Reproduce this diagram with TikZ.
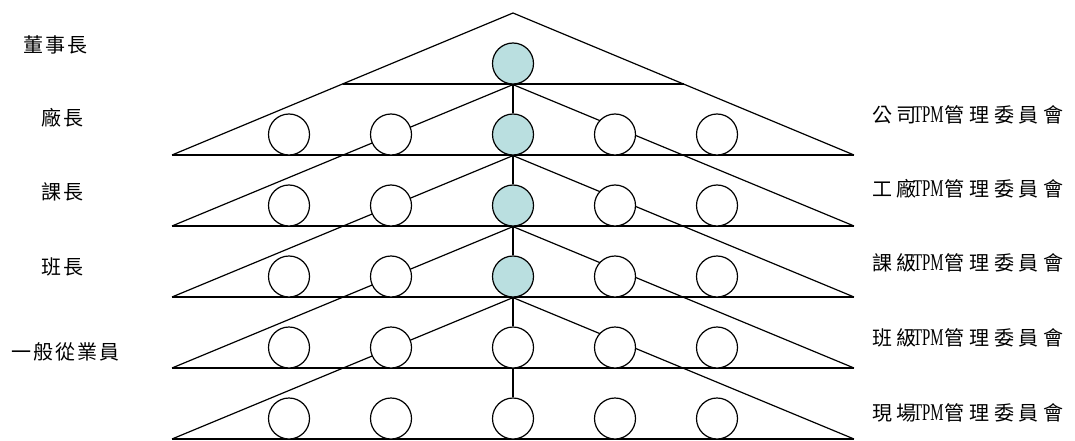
\documentclass[tikz,border=0pt]{standalone}
\usepackage{fontspec}
\setmainfont{Liberation Serif}
\newfontfamily\cjk[LetterSpace=10]{Noto Sans CJK TC}
\newfontfamily\cjkwide[LetterSpace=24]{Noto Sans CJK TC}
\newfontfamily\tpm[FakeStretch=0.62]{Liberation Serif}
\usetikzlibrary{calc,backgrounds}

\definecolor{chairfill}{RGB}{186,223,224}

\newcommand\board[1]{{\cjkwide #1}\kern-4pt{\fontsize{24}{24}\tpm TPM}\kern1pt{\cjkwide 管理委員會}}

\begin{document}
\begin{tikzpicture}[
        x=1pt, y=-1pt,
        font=\fontsize{20}{20}\selectfont,
        member/.style={circle, draw, line width=1.2pt, fill=white,
            minimum size=41pt, inner sep=0pt},
        link/.style={line width=1.2pt},
        rank/.style={inner sep=0pt, font=\fontsize{20}{20}\selectfont\cjk},
        cttee/.style={anchor=west, inner sep=0pt},
    ]
        \useasboundingbox (0,0) rectangle (1075,441);

        % Chairman on top
        \coordinate (peak) at (513,13);
        \node[member, fill=chairfill] (c0) at (513,63.5) {};

        % Five rows, the middle member chairs the row
        \foreach \r/\f in {1/chairfill, 2/chairfill, 3/chairfill, 4/white, 5/white} {
            \pgfmathsetmacro\yy{63.5+71*\r}
            \foreach \c/\xx in {1/289, 2/391, 4/615, 5/717}
                \node[member] (m\r\c) at (\xx,\yy) {};
            \node[member, fill=\f] (c\r) at (513,\yy) {};
            \coordinate (L\r) at (172,84+71*\r);
            \coordinate (R\r) at (854,84+71*\r);
        }

        % Ranks
        \node[rank] (rk0) at (55,45) {董事長};
        \node[rank] (rk1) at (62,118) {廠長};
        \node[rank] (rk2) at (62,192) {課長};
        \node[rank] (rk3) at (62,267) {班長};
        \node[rank] (rk4) at (65,352) {一般從業員};

        % Committees
        \node[cttee] (cm1) at (872,115) {\board{公司}};
        \node[cttee] (cm2) at (872,189) {\board{工廠}};
        \node[cttee] (cm3) at (872,263) {\board{課級}};
        \node[cttee] (cm4) at (872,338) {\board{班級}};
        \node[cttee] (cm5) at (872,413) {\board{現場}};

        \begin{scope}[on background layer]
            \draw[link] (L1) -- (peak) -- (R1);
            \draw[link] ($(peak)!.5!(L1)$) -- ($(peak)!.5!(R1)$);
            \foreach \r in {1,...,5}
                \draw[link] (L\r) -- (R\r);
            \foreach \r [evaluate=\r as \up using int(\r-2)] in {2,...,5}
                \draw[link] (L\r) -- (c\up.south) -- (R\r);
            \foreach \r [evaluate=\r as \dn using int(\r+1)] in {0,...,4}
                \draw[link] (c\r.south) -- (c\dn.north);
        \end{scope}
    \end{tikzpicture}
\end{document}
